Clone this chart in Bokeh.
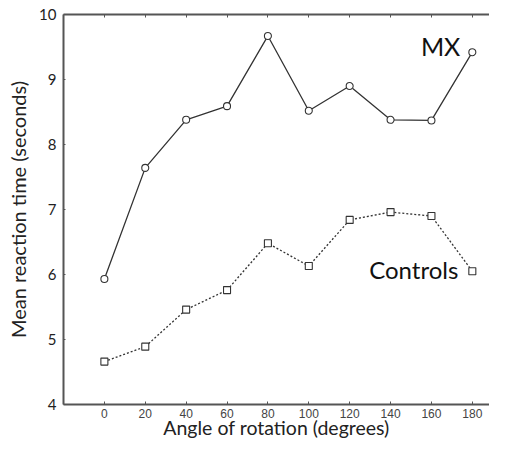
from bokeh.plotting import figure
from bokeh.models import LinearAxis, Range1d, FixedTicker, Label, ColumnDataSource
from bokeh.embed import file_html
from bokeh.resources import INLINE

angles = [0, 20, 40, 60, 80, 100, 120, 140, 160, 180]
mx = [5.93, 7.64, 8.38, 8.59, 9.67, 8.52, 8.90, 8.38, 8.37, 9.42]
controls = [4.66, 4.89, 5.46, 5.76, 6.48, 6.13, 6.84, 6.96, 6.90, 6.05]
x_ticks = [0, 20, 40, 60, 80, 100, 120, 140, 160, 180]
y_ticks = [4, 5, 6, 7, 8, 9, 10]

FONT = "Lato"
AX = "#555555"
LINE = "#333333"

p = figure(width=489, height=441, output_backend="svg", toolbar_location=None,
           x_range=Range1d(-20, 188.4), y_range=Range1d(4, 10),
           min_border_left=63, min_border_right=0, min_border_top=14, min_border_bottom=35)
p.outline_line_color = None
p.grid.visible = False
p.background_fill_color = "white"
p.border_fill_color = "white"

src_mx = ColumnDataSource(dict(x=angles, y=mx))
src_c = ColumnDataSource(dict(x=angles, y=controls))

p.line("x", "y", source=src_mx, line_color=LINE, line_width=1.3)
p.scatter("x", "y", source=src_mx, marker="circle", size=7, fill_color="white",
          line_color=LINE, line_width=1.1)
p.line("x", "y", source=src_c, line_color=LINE, line_width=1.3, line_dash="2 2")
p.scatter("x", "y", source=src_c, marker="square", size=7, fill_color="white",
          line_color=LINE, line_width=1.1)

xa = p.xaxis[0]
xa.ticker = FixedTicker(ticks=x_ticks)
xa.axis_label = "Angle of rotation (degrees)"
xa.axis_label_text_font = FONT
xa.axis_label_text_font_style = "normal"
xa.axis_label_text_font_size = "19.5px"
xa.axis_label_text_color = "#222222"
xa.axis_label_standoff = -5
xa.major_label_text_font = "Liberation Sans"
xa.major_label_text_font_size = "12px"
xa.major_label_text_color = "#444444"
xa.major_label_standoff = 4
xa.major_tick_in = 3
xa.major_tick_out = 0
xa.minor_tick_line_color = None
xa.axis_line_color = AX
xa.axis_line_width = 2
xa.major_tick_line_color = AX

ya = p.yaxis[0]
ya.ticker = FixedTicker(ticks=y_ticks)
ya.axis_label = "Mean reaction time (seconds)"
ya.axis_label_text_font = FONT
ya.axis_label_text_font_style = "normal"
ya.axis_label_text_font_size = "20px"
ya.axis_label_text_color = "#222222"
ya.axis_label_standoff = 6
ya.major_label_text_font = FONT
ya.major_label_text_font_size = "15px"
ya.major_label_text_color = "#222222"
ya.major_label_standoff = 7
ya.major_tick_in = 2
ya.major_tick_out = 0
ya.minor_tick_line_color = None
ya.axis_line_color = AX
ya.axis_line_width = 2
ya.major_tick_line_color = AX

top = LinearAxis(ticker=FixedTicker(ticks=x_ticks))
top.major_label_text_font_size = "1px"
top.major_label_text_color = None
top.major_label_standoff = 0
top.major_tick_in = 3
top.major_tick_out = 0
top.minor_tick_line_color = None
top.axis_line_color = AX
top.axis_line_width = 2
top.major_tick_line_color = AX
p.add_layout(top, "above")

p.add_layout(Label(x=180, y=mx[-1], text="MX", text_font=FONT, text_font_size="25px",
                   text_color="#111111", x_offset=-12, y_offset=6, text_align="right",
                   text_baseline="middle"))
p.add_layout(Label(x=180, y=controls[-1], text="Controls", text_font=FONT,
                   text_font_size="24px", text_color="#111111", x_offset=-14, y_offset=2,
                   text_align="right", text_baseline="middle"))

open("out.html", "w").write(file_html(p, INLINE))
